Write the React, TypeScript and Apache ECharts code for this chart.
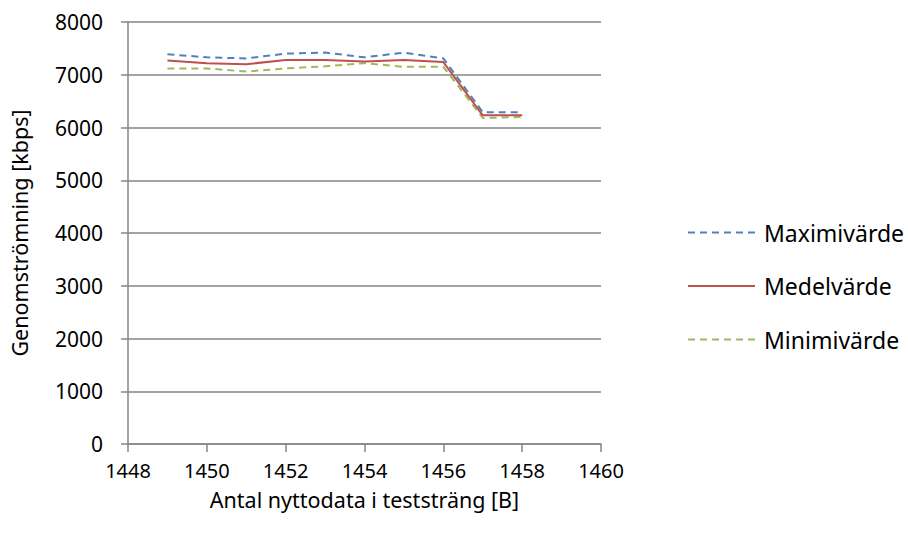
import React, { useEffect, useRef } from "react";
import * as echarts from "echarts";

const xValues = [1449, 1450, 1451, 1452, 1453, 1454, 1455, 1456, 1457, 1458];
const maxValues = [7390, 7330, 7310, 7400, 7420, 7330, 7420, 7310, 6290, 6290];
const meanValues = [7270, 7220, 7200, 7280, 7280, 7250, 7280, 7240, 6230, 6230];
const minValues = [7120, 7120, 7060, 7120, 7160, 7220, 7150, 7150, 6180, 6200];
const seriesNames = ["Maximivärde", "Medelvärde", "Minimivärde"];
const colors = ["#4F81BD", "#C0504D", "#9BBB59"];

const FONT = "'Noto Sans', 'Open Sans', sans-serif";
const FS = 21;
const FS_X = 20;
const FS_NAME = 21.5;
const FS_LEG = 23;

export default function App() {
  const ref = useRef<HTMLDivElement>(null);
  useEffect(() => {
    if (!ref.current) return;
    const chart = echarts.init(ref.current, null, { renderer: "svg" });
    const mk = (arr: number[]) => xValues.map((x, i) => [x, arr[i]]);
    const datasets = [maxValues, meanValues, minValues];
    chart.setOption({
      animation: false,
      backgroundColor: "#ffffff",
      grid: { left: 124, right: 307, top: 22, bottom: 91, containLabel: false },
      legend: {
        orient: "vertical",
        left: 687,
        top: 221,
        padding: 0,
        itemWidth: 67,
        itemHeight: 24,
        itemGap: 30.5,
        itemStyle: { opacity: 0 },
        textStyle: { fontFamily: FONT, fontSize: FS_LEG, color: "#000", padding: [0, 0, 0, 4] },
        data: seriesNames,
      },
      xAxis: {
        type: "value",
        min: 1448,
        max: 1460,
        interval: 2,
        name: "Antal nyttodata i teststräng [B]",
        nameLocation: "middle",
        nameGap: 44,
        nameMoveOverlap: false,
        nameTextStyle: { fontFamily: FONT, fontSize: FS_NAME, color: "#000" },
        axisLine: { show: true, onZero: false, lineStyle: { color: "#868686", width: 1.5 } },
        axisTick: { show: true, length: 8, lineStyle: { color: "#868686", width: 1.5 } },
        axisLabel: {
          fontFamily: FONT,
          fontSize: FS_X,
          color: "#000",
          margin: 16,
          formatter: (v: number) => String(v),
        },
        splitLine: { show: false },
      },
      yAxis: {
        type: "value",
        min: 0,
        max: 8000,
        interval: 1000,
        name: "Genomströmning [kbps]",
        nameLocation: "middle",
        nameGap: 98,
        nameMoveOverlap: false,
        nameTextStyle: { fontFamily: FONT, fontSize: FS_NAME, color: "#000" },
        axisLine: { show: true, lineStyle: { color: "#868686", width: 1.5 } },
        axisTick: { show: true, length: 7, lineStyle: { color: "#868686", width: 1.5 } },
        axisLabel: {
          fontFamily: FONT,
          fontSize: FS,
          color: "#000",
          margin: 25,
          formatter: (v: number) => String(v),
        },
        splitLine: { show: true, lineStyle: { color: "#868686", width: 1.5 } },
      },
      series: seriesNames.map((name, i) => ({
        name,
        type: "line",
        data: mk(datasets[i]),
        symbol: "none",
        color: colors[i],
        lineStyle: {
          color: colors[i],
          width: 2,
          type: i === 1 ? "solid" : [7, 5],
        },
        z: i === 1 ? 3 : 2,
      })),
    });
    return () => chart.dispose();
  }, []);
  return (
    <div
      ref={ref}
      style={{ position: "fixed", left: 0, top: 0, width: 908, height: 535 }}
    />
  );
}
